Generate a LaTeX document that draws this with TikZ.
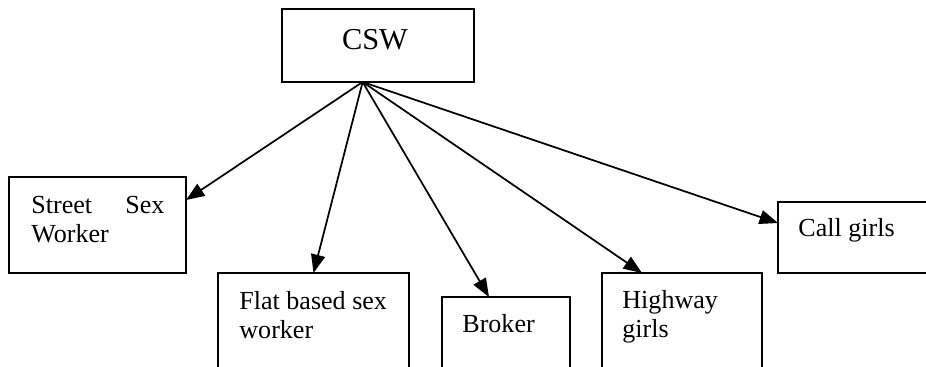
\documentclass[tikz,border=0pt]{standalone}
\usepackage{fontspec}
\setmainfont{Liberation Serif}
\usetikzlibrary{arrows.meta,calc}

\tikzset{
  box/.style={draw, line width=0.9pt, rectangle, inner sep=0pt, outer sep=0pt, anchor=north west},
  lbl/.style={inner sep=0pt, anchor=base west, align=left, font=\fontsize{12}{13.8}\selectfont},
  arr/.style={line width=0.8pt, -{Triangle[length=8.5pt,width=6.5pt]}}
}

\begin{document}
\begin{tikzpicture}[x=0.4608pt,y=-0.4608pt]
  \useasboundingbox (0,0) rectangle (926,367);
  \clip (0,0) rectangle (926,367);

  % boxes (lower ones run past the bottom edge)
  \node[box, minimum width=192*0.4608pt, minimum height=73*0.4608pt] (csw) at (282,9) {};
  \node[box, minimum width=177*0.4608pt, minimum height=96*0.4608pt] (street) at (9,177) {};
  \node[box, minimum width=191*0.4608pt, minimum height=130*0.4608pt] (flat) at (218,273) {};
  \node[box, minimum width=128*0.4608pt, minimum height=110*0.4608pt] (broker) at (442,297) {};
  \node[box, minimum width=160*0.4608pt, minimum height=130*0.4608pt] (highway) at (602,273) {};
  \node[box, minimum width=190*0.4608pt, minimum height=71*0.4608pt] (call) at (778,202) {};

  % labels (base anchor of a two-line label sits on its last line)
  \node[inner sep=0pt, anchor=base, font=\fontsize{14}{16}\selectfont] (cswt) at (375,50) {CSW};
  \node[lbl] (streett) at (31,243) {\hbox to 61.3pt{Street\hfill Sex}\\Worker};
  \node[lbl] (flatt) at (239,339) {Flat based sex\\worker};
  \node[lbl] (brokert) at (462,333) {Broker};
  \node[lbl] (highwayt) at (622,338) {Highway\\girls};
  \node[lbl] (callt) at (798,237) {Call girls};

  % connectors
  \coordinate (src) at ($(csw.south west)!0.42!(csw.south east)$);
  \draw[arr] (src) -- ($(street.north east)!0.24!(street.south east)$);
  \draw[arr] (src) -- (flat.north);
  \draw[arr] (src) -- ($(broker.north west)!0.367!(broker.north east)$);
  \draw[arr] (src) -- ($(highway.north west)!0.25!(highway.north east)$);
  \draw[arr] (src) -- ($(call.north west)!0.296!(call.south west)$);
\end{tikzpicture}
\end{document}
